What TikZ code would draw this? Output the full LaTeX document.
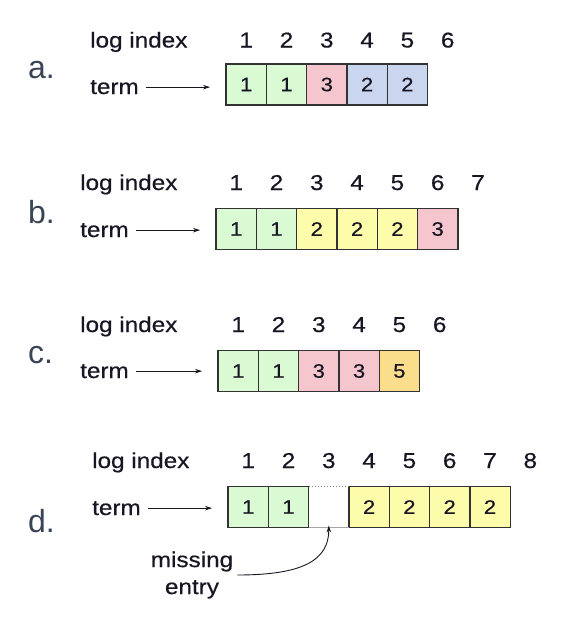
\documentclass[tikz,border=0pt]{standalone}
\usepackage{fontspec}
\setmainfont{Liberation Sans}
\newfontfamily\wideface[FakeStretch=1.13, FakeBold=0.5]{Liberation Sans}
\usetikzlibrary{positioning,arrows.meta}

\begin{document}
\begin{tikzpicture}[x=1pt,y=-1pt,
    cell/.style={draw=cellline, line width=1.3pt, outer sep=0pt, inner sep=0pt,
        minimum width=40.3pt, minimum height=41pt,
        font=\wideface\fontsize{19.5}{22}\selectfont, text=textdark},
    txt/.style={anchor=base, inner sep=0pt, font=\wideface\fontsize{21.5}{24}\selectfont, text=textdark},
    lbl/.style={txt, anchor=base west},
    panel/.style={anchor=base west, inner sep=0pt, font=\fontsize{32}{36}\selectfont, text=panelgray},
    ptr/.style={-{Stealth[length=7pt,width=4.5pt]}, line width=0.9pt, draw=textdark}]

    % Colors for the cells
    \definecolor{entrygreen}{RGB}{218,250,212}
    \definecolor{entrypink}{RGB}{245,198,206}
    \definecolor{entryblue}{RGB}{202,214,240}
    \definecolor{entryyellow}{RGB}{253,252,170}
    \definecolor{entryorange}{RGB}{250,222,140}
    \definecolor{cellline}{RGB}{50,50,50}
    \definecolor{textdark}{RGB}{25,22,35}
    \definecolor{panelgray}{RGB}{58,68,84}

    \useasboundingbox (0,0) rectangle (578,622);

    % a. (leader with term 3 at index 3)
    \node[panel] (alabel) at (28,78) {a.};
    \node[lbl] (aindex) at (90,47.5) {log index};
    \node[lbl] (aterm) at (90,94) {term};
    \node[cell, fill=entrygreen] (a1) at (246.2,84.5) {1};
    \node[cell, fill=entrygreen, right=0pt of a1] (a2) {1};
    \node[cell, fill=entrypink, right=0pt of a2] (a3) {3};
    \node[cell, fill=entryblue, right=0pt of a3] (a4) {2};
    \node[cell, fill=entryblue, right=0pt of a4] (a5) {2};
    \node[txt] at (246.2,47.5) {1};
    \node[txt] at (286.5,47.5) {2};
    \node[txt] at (326.8,47.5) {3};
    \node[txt] at (367.1,47.5) {4};
    \node[txt] at (407.4,47.5) {5};
    \node[txt] at (447.7,47.5) {6};
    \draw[ptr, shorten <=7pt, shorten >=16pt] (aterm.east) -- (aterm.east -| a1.west);

    % b.
    \node[panel] (blabel) at (28,223) {b.};
    \node[lbl] (bindex) at (80,190) {log index};
    \node[lbl] (bterm) at (80,237) {term};
    \node[cell, fill=entrygreen] (b1) at (236.2,229) {1};
    \node[cell, fill=entrygreen, right=0pt of b1] (b2) {1};
    \node[cell, fill=entryyellow, right=0pt of b2] (b3) {2};
    \node[cell, fill=entryyellow, right=0pt of b3] (b4) {2};
    \node[cell, fill=entryyellow, right=0pt of b4] (b5) {2};
    \node[cell, fill=entrypink, right=0pt of b5] (b6) {3};
    \node[txt] at (236.2,190) {1};
    \node[txt] at (276.5,190) {2};
    \node[txt] at (316.8,190) {3};
    \node[txt] at (357.1,190) {4};
    \node[txt] at (397.4,190) {5};
    \node[txt] at (437.7,190) {6};
    \node[txt] at (478.0,190) {7};
    \draw[ptr, shorten <=7pt, shorten >=16pt] (bterm.east) -- (bterm.east -| b1.west);

    % c.
    \node[panel] (clabel) at (28,363) {c.};
    \node[lbl] (cindex) at (80,332) {log index};
    \node[lbl] (cterm) at (80,378) {term};
    \node[cell, fill=entrygreen] (c1) at (238.2,371) {1};
    \node[cell, fill=entrygreen, right=0pt of c1] (c2) {1};
    \node[cell, fill=entrypink, right=0pt of c2] (c3) {3};
    \node[cell, fill=entrypink, right=0pt of c3] (c4) {3};
    \node[cell, fill=entryorange, right=0pt of c4] (c5) {5};
    \node[txt] at (238.2,332) {1};
    \node[txt] at (278.5,332) {2};
    \node[txt] at (318.8,332) {3};
    \node[txt] at (359.1,332) {4};
    \node[txt] at (399.4,332) {5};
    \node[txt] at (439.7,332) {6};
    \draw[ptr, shorten <=7pt, shorten >=16pt] (cterm.east) -- (cterm.east -| c1.west);

    % d. (gap at index 3)
    \node[panel] (dlabel) at (28,532) {d.};
    \node[lbl] (dindex) at (92,468) {log index};
    \node[lbl] (dterm) at (92,515) {term};
    \node[cell, fill=entrygreen] (d1) at (248.2,507) {1};
    \node[cell, fill=entrygreen, right=0pt of d1] (d2) {1};
    \node[cell, draw=none, right=0pt of d2] (d3) {};
    \node[cell, fill=entryyellow, right=0pt of d3] (d4) {2};
    \node[cell, fill=entryyellow, right=0pt of d4] (d5) {2};
    \node[cell, fill=entryyellow, right=0pt of d5] (d6) {2};
    \node[cell, fill=entryyellow, right=0pt of d6] (d7) {2};
    \draw[gray, line width=1pt, dotted] (d3.north west) -- (d3.north east);
    \draw[gray!70, line width=1pt] (d3.south west) -- (d3.south east);
    \node[txt] at (248.2,468) {1};
    \node[txt] at (288.5,468) {2};
    \node[txt] at (328.8,468) {3};
    \node[txt] at (369.1,468) {4};
    \node[txt] at (409.4,468) {5};
    \node[txt] at (449.7,468) {6};
    \node[txt] at (490.0,468) {7};
    \node[txt] at (530.3,468) {8};
    \draw[ptr, shorten <=7pt, shorten >=16pt] (dterm.east) -- (dterm.east -| d1.west);
    \node[txt, anchor=center, align=center, font=\wideface\fontsize{21.5}{27}\selectfont] (missing) at (192,575) {missing\\entry};
    \draw[ptr] ([xshift=4pt]missing.east) .. controls +(65,0) and +(0,35) .. ([yshift=2pt]d3.south);

\end{tikzpicture}
\end{document}
